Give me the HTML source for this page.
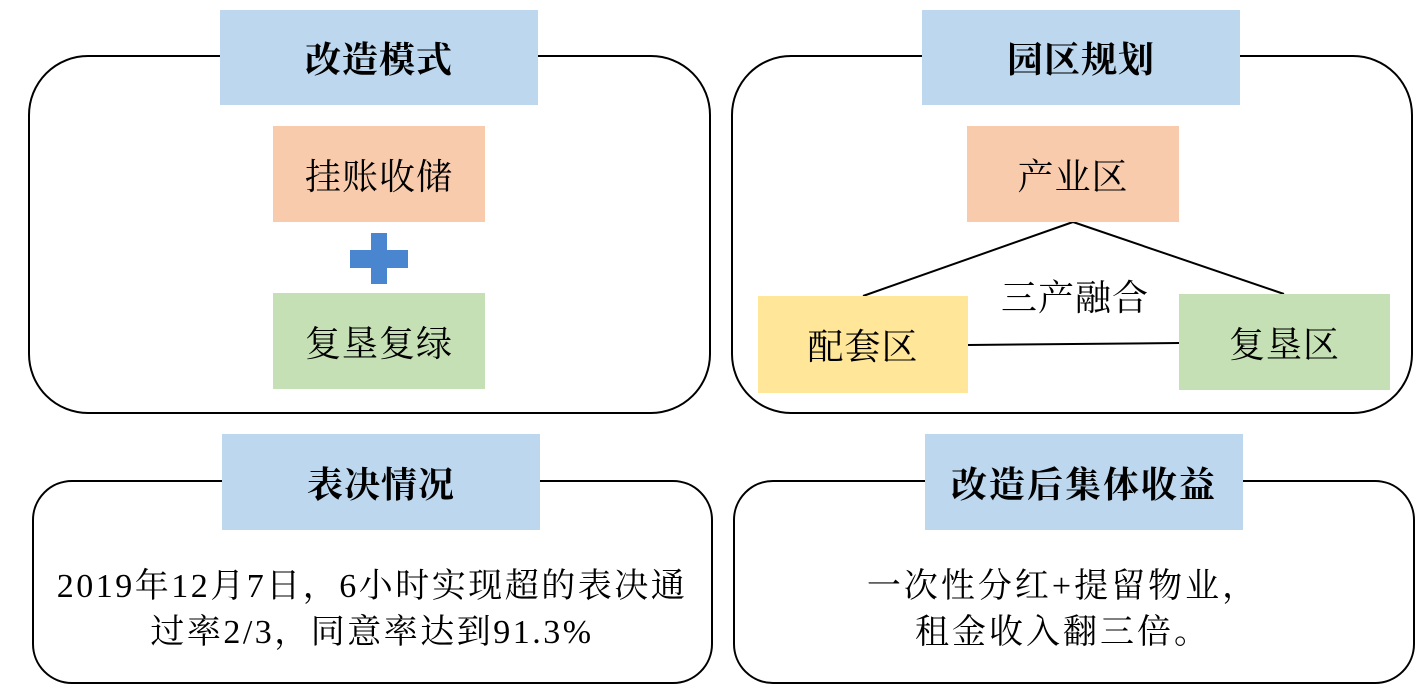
<!DOCTYPE html>
<html><head><meta charset="utf-8"><style>
body{margin:0;width:1426px;height:695px;background:#fff;position:relative;overflow:hidden;font-family:"Liberation Serif","Noto Serif CJK SC",serif;}
div{position:absolute;box-sizing:border-box;}
.r{border:2px solid #000;border-radius:60px;background:#fff;}
.t{background:#bdd7ee;display:flex;align-items:center;justify-content:center;font-size:36px;font-weight:bold;color:#000;letter-spacing:1px;}
.b{display:flex;align-items:center;justify-content:center;font-size:36px;color:#000;letter-spacing:1px;}
.tx{font-size:34px;text-align:center;line-height:46px;color:#000;letter-spacing:2.5px;}
</style></head><body>
<div class="r" style="left:28px;top:55px;width:683px;height:359px;"></div>
<div class="r" style="left:731px;top:55px;width:682px;height:359px;"></div>
<div class="r" style="left:32px;top:480px;width:681px;height:204px;border-radius:40px;"></div>
<div class="r" style="left:733px;top:480px;width:682px;height:204px;border-radius:40px;"></div>

<div class="t" style="left:220px;top:10px;width:318px;height:95px;">改造模式</div>
<div class="t" style="left:922px;top:10px;width:318px;height:95px;">园区规划</div>
<div class="t" style="left:222px;top:434px;width:318px;height:96px;">表决情况</div>
<div class="t" style="left:925px;top:434px;width:318px;height:96px;letter-spacing:2px;">改造后集体收益</div>

<div class="b" style="left:273px;top:126px;width:212px;height:96px;background:#f8cbad;">挂账收储</div>
<div style="left:371px;top:233px;width:16px;height:51px;background:#4a86d0;"></div>
<div style="left:350px;top:250px;width:58px;height:18px;background:#4a86d0;"></div>
<div class="b" style="left:273px;top:293px;width:212px;height:96px;background:#c5e0b4;">复垦复绿</div>

<svg style="position:absolute;left:0;top:0" width="1426" height="695">
<line x1="1073" y1="222" x2="863" y2="296" stroke="#000" stroke-width="2"/>
<line x1="1073" y1="222" x2="1284" y2="294" stroke="#000" stroke-width="2"/>
<line x1="968" y1="345" x2="1179" y2="343" stroke="#000" stroke-width="2"/>
</svg>
<div class="b" style="left:967px;top:126px;width:212px;height:96px;background:#f8cbad;">产业区</div>
<div class="b" style="left:758px;top:296px;width:210px;height:97px;background:#ffe699;">配套区</div>
<div class="b" style="left:1179px;top:294px;width:211px;height:96px;background:#c5e0b4;">复垦区</div>
<div class="b" style="left:980px;top:272px;width:190px;height:46px;">三产融合</div>

<div class="tx" style="left:22px;top:564px;width:700px;">2019年12月7日，6小时实现超的表决通<br>过率2/3，同意率达到91.3%</div>
<div class="tx" style="left:713px;top:564px;width:700px;letter-spacing:3px;">一次性分红+提留物业，<br>租金收入翻三倍。</div>
</body></html>
